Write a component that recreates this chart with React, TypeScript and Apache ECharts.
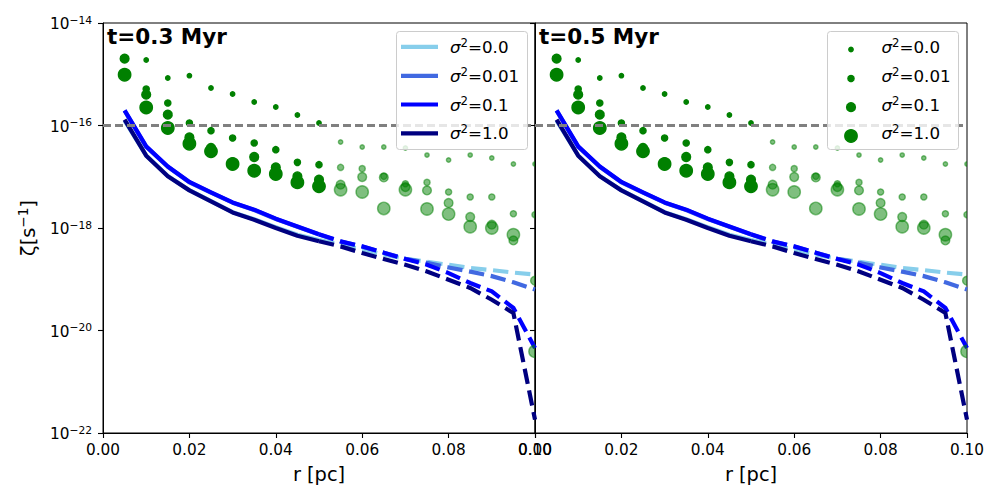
import React, { useEffect, useRef } from "react";
import * as echarts from "echarts";

// ---------------- data ----------------
const R_PC = [
  0.005, 0.01, 0.015, 0.02, 0.025, 0.03, 0.035, 0.04, 0.045, 0.05,
  0.055, 0.06, 0.065, 0.07, 0.075, 0.08, 0.085, 0.09, 0.095, 0.1,
];
const SIGMA2_LABELS = ["0.0", "0.01", "0.1", "1.0"];
const PANEL_TITLES = ["t=0.3 Myr", "t=0.5 Myr"];
const X_AXIS_NAME = "r [pc]";
const X_MIN = 0;
const X_MAX = 0.1;
const X_STEP = 0.02;
const Y_EXP_TICKS = [-22, -20, -18, -16, -14];
const ZETA_REF = 1e-16;
const SOLID_UNTIL_PC = 0.05;

// zeta [s^-1] of the model lines
const LINE_ZETA_SIG0 = [1.25e-16, 2.6e-17, 1.03e-17, 5.48e-18, 3.34e-18, 2.04e-18, 1.48e-18, 1.04e-18, 7.4e-19, 5.8e-19, 4.79e-19, 3.8e-19, 3.02e-19, 2.51e-19, 2.19e-19, 1.91e-19, 1.66e-19, 1.51e-19, 1.35e-19, 1.23e-19];
const LINE_ZETA_SIG001 = [1.95e-16, 3.85e-17, 1.57e-17, 7.8e-18, 4.9e-18, 3.12e-18, 2.25e-18, 1.5e-18, 1.06e-18, 7.5e-19, 5.45e-19, 4.35e-19, 3.3e-19, 2.5e-19, 2.09e-19, 1.7e-19, 1.41e-19, 1.15e-19, 8.71e-20, 6.31e-20];
const LINE_ZETA_SIG01 = [1.97e-16, 3.91e-17, 1.59e-17, 7.91e-18, 4.95e-18, 3.16e-18, 2.28e-18, 1.52e-18, 1.07e-18, 7.57e-19, 5.48e-19, 4.38e-19, 3.3e-19, 2.48e-19, 1.92e-19, 1.32e-19, 8.45e-20, 5.79e-20, 2.75e-20, 4.56e-21];
const LINE_ZETA_SIG1 = [1.3e-16, 2.58e-17, 1.02e-17, 5.42e-18, 3.3e-18, 2.01e-18, 1.45e-18, 1.0e-18, 7.08e-19, 5.52e-19, 4.38e-19, 3.25e-19, 2.48e-19, 1.92e-19, 1.42e-19, 9.79e-20, 6.75e-20, 3.99e-20, 2.19e-20, 1.82e-22];

// zeta [s^-1] of the scatter points
const PTS_ZETA_SIG0 = [2.01e-15, 1.9e-15, 8.45e-16, 9.38e-16, 5.4e-16, 4.12e-16, 2.88e-16, 2.3e-16, 1.6e-16, 1.12e-16, 4.76e-17, 3.8e-17, 3.8e-17, 3.64e-17, 2.65e-17, 2.12e-17, 2.65e-17, 2.32e-17, 1.77e-17, 1.77e-17];
const PTS_ZETA_SIG001 = [2.01e-15, 5.15e-16, 2.75e-16, 1.12e-16, 7.92e-17, 5.7e-17, 4.56e-17, 3.37e-17, 1.91e-17, 1.72e-17, 1.52e-17, 1.44e-17, 1.02e-17, 7.31e-18, 7.76e-18, 5.04e-18, 4.03e-18, 4.03e-18, 1.9e-18, 1.82e-18];
const PTS_ZETA_SIG01 = [2.01e-15, 3.99e-16, 1.63e-16, 5.86e-17, 3.64e-17, 1.91e-17, 2.43e-17, 1.52e-17, 1.02e-17, 8.75e-18, 7.0e-18, 9.89e-18, 9.7e-18, 6.31e-18, 5.42e-18, 3.08e-18, 1.64e-18, 1.16e-18, 5.73e-19, 9.38e-20];
const PTS_ZETA_SIG1 = [9.79e-16, 2.25e-16, 8.93e-17, 4.42e-17, 3.13e-17, 1.77e-17, 1.31e-17, 1.13e-17, 7.76e-18, 6.49e-18, 5.58e-18, 5.04e-18, 2.41e-18, 5.58e-18, 2.35e-18, 1.87e-18, 1.06e-18, 1.0e-18, 7.4e-19, 3.91e-21];

const LINE_SETS = [LINE_ZETA_SIG0, LINE_ZETA_SIG001, LINE_ZETA_SIG01, LINE_ZETA_SIG1];
const PT_SETS = [PTS_ZETA_SIG0, PTS_ZETA_SIG001, PTS_ZETA_SIG01, PTS_ZETA_SIG1];

// ---------------- styles / layout ----------------
const FONT = "DejaVu Sans";
const LINE_COLORS = ["#87ceeb", "#4169e1", "#0000ff", "#000080"];
const PT_DIAM = [4.4, 6.2, 8.8, 12.4];
const GREEN = "#008000";
const GREEN_FADED = "rgba(0,128,0,0.5)";
const LINE_W = 4.2;
const DASH = [15.4, 6.7];
const GRID_LEFTS = [103, 535];
const GRID_TOP = 23;
const GRID_W = 432;
const GRID_H = 410;
const MINUS = "\u2212";

function sigmaRich(label: string) {
  return `{i|σ}{s|2}{n|=${label}}`;
}
const LEGEND_RICH = {
  i: { fontSize: 16.7, fontFamily: FONT, fontStyle: "italic", fill: "#000", lineHeight: 20, verticalAlign: "middle" },
  s: { fontSize: 11.7, fontFamily: FONT, fill: "#000", lineHeight: 13, verticalAlign: "top" },
  n: { fontSize: 16.7, fontFamily: FONT, fill: "#000", lineHeight: 20, verticalAlign: "middle" },
};

function buildOption(): any {
  const grid = GRID_LEFTS.map((left) => ({
    left,
    top: GRID_TOP,
    width: GRID_W,
    height: GRID_H,
    show: true,
    borderColor: "#000",
    borderWidth: 1,
    backgroundColor: "transparent",
  }));

  const xAxis = GRID_LEFTS.map((_, p) => ({
    type: "value",
    gridIndex: p,
    min: X_MIN,
    max: X_MAX,
    interval: X_STEP,
    name: X_AXIS_NAME,
    nameLocation: "middle",
    nameGap: 31,
    nameTextStyle: { fontSize: 19.4, fontFamily: FONT, color: "#000", lineHeight: 20 },
    axisLine: { show: true, lineStyle: { color: "#000", width: 1 } },
    axisTick: { show: true, inside: false, length: 5, lineStyle: { color: "#000", width: 1.1 } },
    axisLabel: {
      show: true,
      margin: 9,
      fontSize: 15.3,
      fontFamily: FONT,
      color: "#000",
      showMinLabel: true,
      showMaxLabel: true,
      formatter: (v: number) => v.toFixed(2),
    },
    splitLine: { show: false },
  }));

  const yAxis = GRID_LEFTS.map((_, p) => ({
    type: "value",
    gridIndex: p,
    min: Y_EXP_TICKS[0],
    max: Y_EXP_TICKS[Y_EXP_TICKS.length - 1],
    interval: Y_EXP_TICKS[1] - Y_EXP_TICKS[0],
    axisLine: { show: true, lineStyle: { color: "#000", width: 1 } },
    axisTick: { show: true, inside: false, length: 5, lineStyle: { color: "#000", width: 1.1 } },
    axisLabel: {
      show: p === 0,
      margin: 11,
      formatter: (v: number) => `{b|10}{s|${v < 0 ? MINUS : ""}${Math.abs(v)}}`,
      rich: {
        b: { fontSize: 15.3, fontFamily: FONT, color: "#000", lineHeight: 17, verticalAlign: "bottom" },
        s: { fontSize: 10.7, fontFamily: FONT, color: "#000", lineHeight: 11.8, padding: [0, 0, 8.6, 0], verticalAlign: "top" },
      },
    },
    splitLine: { show: false },
  }));

  const series: any[] = [];
  GRID_LEFTS.forEach((_, p) => {
    // lines: solid until SOLID_UNTIL_PC, dashed from there on
    LINE_SETS.forEach((vals, k) => {
      const pts = R_PC.map((r, i) => [r, Math.log10(vals[i])]);
      series.push({
        type: "line",
        name: `p${p}-line-solid-${SIGMA2_LABELS[k]}`,
        xAxisIndex: p,
        yAxisIndex: p,
        data: pts.filter((d) => d[0] <= SOLID_UNTIL_PC + 1e-9),
        symbol: "none",
        silent: true,
        z: 2,
        lineStyle: { color: LINE_COLORS[k], width: LINE_W, type: "solid", cap: "butt", join: "round" },
      });
      series.push({
        type: "line",
        name: `p${p}-line-dash-${SIGMA2_LABELS[k]}`,
        xAxisIndex: p,
        yAxisIndex: p,
        data: pts.filter((d) => d[0] >= SOLID_UNTIL_PC - 1e-9),
        symbol: "none",
        silent: true,
        z: 2,
        lineStyle: { color: LINE_COLORS[k], width: LINE_W, type: DASH, cap: "butt", join: "miter" },
      });
    });
    // scatter points
    PT_SETS.forEach((vals, k) => {
      const diam = PT_DIAM[k];
      series.push({
        type: "custom",
        name: `p${p}-pts-${SIGMA2_LABELS[k]}`,
        xAxisIndex: p,
        yAxisIndex: p,
        clip: true,
        silent: true,
        z: 3,
        data: R_PC.map((r, i) => [r, Math.log10(vals[i])]),
        renderItem: (_params: any, api: any) => {
          const r = api.value(0) as number;
          const c = api.coord([r, api.value(1)]);
          const col = r > SOLID_UNTIL_PC + 1e-9 ? GREEN_FADED : GREEN;
          return {
            type: "circle",
            shape: { cx: c[0], cy: c[1], r: diam / 2 },
            style: { fill: col, stroke: col, lineWidth: 1.39 },
          };
        },
      });
    });
    // reference level
    series.push({
      type: "line",
      name: `p${p}-ref`,
      xAxisIndex: p,
      yAxisIndex: p,
      data: [],
      symbol: "none",
      silent: true,
      markLine: {
        silent: true,
        symbol: ["none", "none"],
        z: 5,
        label: { show: false },
        lineStyle: { color: "#808080", width: 2.8, type: [8, 4] },
        data: [{ yAxis: Math.log10(ZETA_REF) }],
      },
    });
  });

  // ---- graphic: titles, y label, legends ----
  const graphic: any[] = [];
  PANEL_TITLES.forEach((t, p) => {
    graphic.push({
      type: "text",
      x: GRID_LEFTS[p] + 4,
      y: 36,
      z: 30,
      style: { text: t, fontSize: 21.5, fontWeight: "bold", fontFamily: FONT, fill: "#000", align: "left", verticalAlign: "middle" },
    });
  });
  graphic.push({
    type: "text",
    x: 28,
    y: GRID_TOP + GRID_H / 2,
    rotation: Math.PI / 2,
    z: 30,
    style: {
      text: `{n|ζ[s}{s|${MINUS}1}{n|]}`,
      align: "center",
      verticalAlign: "middle",
      rich: {
        n: { fontSize: 19.4, fontFamily: FONT, fill: "#000", lineHeight: 24, verticalAlign: "middle" },
        s: { fontSize: 13.6, fontFamily: FONT, fill: "#000", lineHeight: 15, verticalAlign: "top" },
      },
    },
  });

  const LEG_ROWS = [46.8, 75.8, 104.5, 133.3];
  const legBoxes = [396.5, 827.5];
  legBoxes.forEach((bx) => {
    graphic.push({
      type: "rect",
      z: 20,
      shape: { x: bx, y: 31.5, width: 131, height: 118, r: 3 },
      style: { fill: "rgba(255,255,255,0.8)", stroke: "#cccccc", lineWidth: 1 },
    });
  });
  SIGMA2_LABELS.forEach((lab, k) => {
    const y = LEG_ROWS[k];
    // left legend: line samples
    graphic.push({
      type: "line",
      z: 21,
      shape: { x1: 401, y1: y, x2: 438, y2: y },
      style: { stroke: LINE_COLORS[k], lineWidth: LINE_W },
    });
    graphic.push({
      type: "text",
      z: 21,
      x: 450,
      y,
      style: { text: sigmaRich(lab), rich: LEGEND_RICH, align: "left", verticalAlign: "middle" },
    });
    // right legend: markers
    graphic.push({
      type: "circle",
      z: 21,
      shape: { cx: 851, cy: y + 2.7, r: PT_DIAM[k] / 2 },
      style: { fill: GREEN, stroke: GREEN, lineWidth: 1.39 },
    });
    graphic.push({
      type: "text",
      z: 21,
      x: 881.5,
      y,
      style: { text: sigmaRich(lab), rich: LEGEND_RICH, align: "left", verticalAlign: "middle" },
    });
  });

  return {
    animation: false,
    backgroundColor: "#ffffff",
    textStyle: { fontFamily: FONT },
    grid,
    xAxis,
    yAxis,
    series,
    graphic,
  };
}

export default function App() {
  const ref = useRef<HTMLDivElement>(null);
  useEffect(() => {
    if (!ref.current) return;
    const chart = echarts.init(ref.current, null, { renderer: "svg" });
    chart.setOption(buildOption());
    return () => chart.dispose();
  }, []);
  return (
    <div
      ref={ref}
      style={{ position: "fixed", left: 0, top: 0, width: 1000, height: 500, background: "#fff" }}
    />
  );
}
